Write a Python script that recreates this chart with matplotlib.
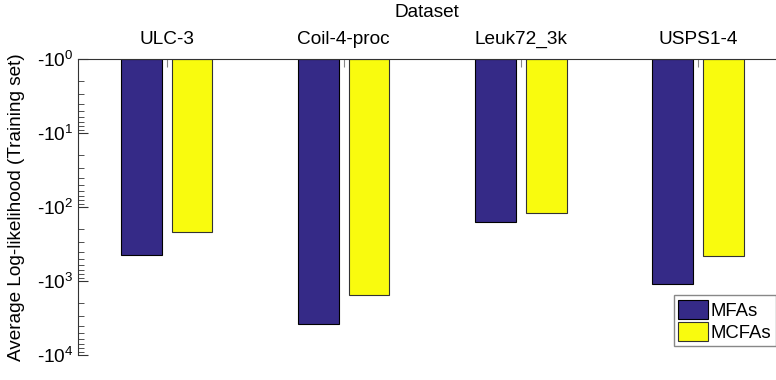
import matplotlib
matplotlib.use("Agg")
import matplotlib.pyplot as plt
import numpy as np
from matplotlib.ticker import LogLocator, FixedLocator, NullFormatter

# ── data ──────────────────────────────────────────────────────────────────
DATASETS = ["ULC-3", "Coil-4-proc", "Leuk72_3k", "USPS1-4"]
MFAS = [-441, -3850, -158, -1097]      # average log-likelihood, training set
MCFAS = [-220, -1546, -119, -459]
SERIES = ["MFAs", "MCFAs"]
Y_DECADES = [0, 1, 2, 3, 4]

plt.rcParams.update({
    "font.family": ["Liberation Sans", "DejaVu Sans"],
    "mathtext.fontset": "custom",
    "mathtext.rm": "Liberation Sans",
    "font.size": 13.7,
})

COL_MFA = "#352A87"
COL_MCFA = "#F9FB0E"

fig = plt.figure(figsize=(7.76, 3.8), dpi=100)
ax = fig.add_axes([78 / 776, 1 - 355 / 380, 1 - 78 / 776, 296 / 380])

x = np.arange(1, len(DATASETS) + 1)
width = 0.23
off = 0.143

# plot magnitudes on a log axis, flipped so -10^0 sits on top
mfa = np.abs(np.array(MFAS, dtype=float))
mcfa = np.abs(np.array(MCFAS, dtype=float))
ax.bar(x - off, mfa - 1, width, bottom=1, color=COL_MFA,
       edgecolor="black", linewidth=0.8, label=SERIES[0])
ax.bar(x + off, mcfa - 1, width, bottom=1, color=COL_MCFA,
       edgecolor="#333333", linewidth=0.8, label=SERIES[1])

ax.set_yscale("log")
ax.set_ylim(1e4, 1)
ax.set_xlim(0.5, 4.44)

ax.yaxis.set_major_locator(FixedLocator([10.0 ** d for d in Y_DECADES]))
ax.set_yticklabels([f"-10$^{{{d}}}$" for d in Y_DECADES])
ax.yaxis.set_minor_locator(LogLocator(base=10, subs=np.arange(2, 10)))
ax.yaxis.set_minor_formatter(NullFormatter())

ax.set_xticks(x)
ax.set_xticklabels(DATASETS)
ax.xaxis.set_ticks_position("top")
ax.xaxis.set_label_position("top")
ax.set_xlabel("Dataset", labelpad=10)
ax.set_ylabel("Average Log-likelihood (Training set)", labelpad=9)

ax.tick_params(axis="y", which="major", direction="in", length=7, width=0.8,
               color="#333333", pad=3)
ax.tick_params(axis="y", which="minor", direction="in", length=4, width=0.6,
               color="#333333")
ax.tick_params(axis="x", direction="in", length=6, width=0.8,
               color="#888888", pad=8)

for s in ["right", "bottom"]:
    ax.spines[s].set_visible(False)
for s in ["top", "left"]:
    ax.spines[s].set_color("#333333")
    ax.spines[s].set_linewidth(0.8)

leg = ax.legend(loc="lower right", bbox_to_anchor=(1.0, 0.03),
                borderaxespad=0, fancybox=False, framealpha=1,
                edgecolor="#888888", handlelength=1.6, handleheight=1.25,
                handletextpad=0.15, borderpad=0.25, labelspacing=0.1,
                fontsize=13.3)
leg.get_frame().set_linewidth(1.0)

fig.savefig("out.png", dpi=100)
